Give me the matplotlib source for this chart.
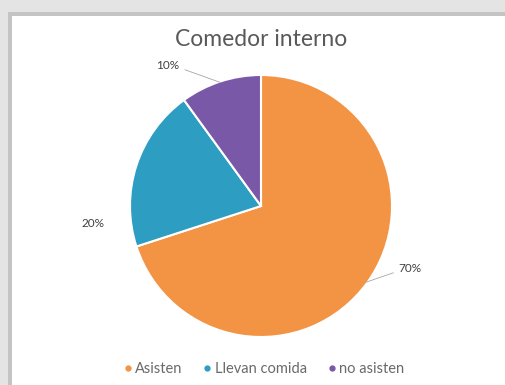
import numpy as np
import matplotlib
matplotlib.use("Agg")
import matplotlib.pyplot as plt
from matplotlib.patches import Rectangle
from matplotlib.lines import Line2D

title = "Comedor interno"
categories = ["Asisten", "Llevan comida", "no asisten"]
values = [70, 20, 10]
colors = ["#F39444", "#2E9DC2", "#7A58A8"]
label_text = ["70%", "20%", "10%"]

plt.rcParams['font.family'] = ['Lato', 'DejaVu Sans']

W, H = 506, 385
fig = plt.figure(figsize=(W / 100, H / 100), dpi=100)
fig.patch.set_facecolor("#e4e4e4")
# white chart panel with a soft shadow edge
fig.add_artist(Rectangle((8 / W, 0), 1, 1 - 12 / H, transform=fig.transFigure,
                         facecolor="#c4c4c4", edgecolor="none", zorder=0))
fig.add_artist(Rectangle((12 / W, 0), 1, 1 - 16 / H, transform=fig.transFigure,
                         facecolor="white", edgecolor="none", zorder=0))

cx, cy, r = 261, 206, 131
ax = fig.add_axes([(cx - r) / W, 1 - (cy + r) / H, 2 * r / W, 2 * r / H])

wedges, _ = ax.pie(values, colors=colors, startangle=90, counterclock=False,
                   radius=1, wedgeprops=dict(edgecolor="white", linewidth=1.5))
ax.set_xlim(-1, 1)
ax.set_ylim(-1, 1)
ax.axis("off")

# label positions (relative to radius) and whether a leader line is drawn
label_pos = {"70%": (1.14, -0.48), "20%": (-1.28, -0.13), "10%": (-0.71, 1.07)}
leader = {"70%": True, "20%": False, "10%": True}
for w, t in zip(wedges, label_text):
    ang = np.deg2rad((w.theta1 + w.theta2) / 2)
    ex, ey = np.cos(ang), np.sin(ang)
    lx, ly = label_pos[t]
    ax.text(lx, ly, t, ha="center", va="center", fontsize=8.5, color="#404040")
    if leader[t]:
        if lx > 0:
            sx = lx - 0.13
        else:
            sx = lx + 0.13
        ax.plot([sx, ex * 0.99], [ly - 0.03, ey * 0.99], color="#a6a6a6", lw=0.6,
                clip_on=False)

fig.text(cx / W, 1 - 40 / H, title, ha="center", va="center", fontsize=16.5,
         color="#595959")

handles = [Line2D([0], [0], marker="o", linestyle="none", markersize=3.5,
                  markerfacecolor=c, markeredgecolor=c) for c in colors]
fig.legend(handles, categories, loc="center", bbox_to_anchor=(263 / W, 1 - 369 / H),
           ncol=3, frameon=False, fontsize=10.5, handletextpad=0.1, handlelength=0.8,
           columnspacing=1.3, labelcolor="#6a6a6a")

fig.savefig("out.png", dpi=100)
